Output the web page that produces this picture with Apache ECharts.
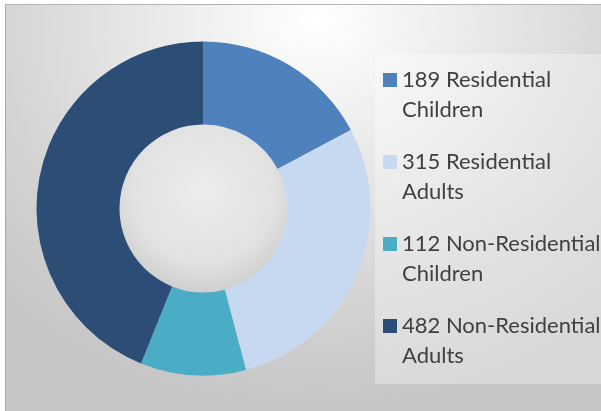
<!DOCTYPE html>
<html>
<head>
<meta charset="utf-8">
<script src="https://cdn.jsdelivr.net/npm/echarts@6/dist/echarts.min.js"></script>
<style>
  html, body { margin: 0; padding: 0; background: #ffffff; }
  #frame {
    position: absolute; left: 5px; top: 4px; width: 596px; height: 407px;
    border-left: 1px solid #a9a9a9; border-top: 1px solid #b4b4b4;
    background: radial-gradient(ellipse 75% 95% at 52% 4%, #ffffff 0%, #e4e4e4 45%, #d2d2d2 75%, #c6c6c6 100%);
  }
  #chart { position: absolute; left: 0; top: 0; width: 595px; height: 406px; }
</style>
</head>
<body>
<div id="frame"><div id="chart"></div></div>
<script>
// 数据
const categories = ['Residential Children', 'Residential Adults', 'Non-Residential Children', 'Non-Residential Adults']
const values = [189, 315, 112, 482]
const colors = ['#4f81bd', '#c6d9f1', '#4bacc6', '#2c4d75']

const chart = echarts.init(document.getElementById('chart'), null, { renderer: 'canvas' })

// 图例方块贴在第一行：路径底部留空
const legendIcon = 'path://M0,0H14V14H0Z M0,44L0.01,44Z'

const option = {
  animation: false,
  color: colors,
  graphic: [
    {
      // 图例底框
      type: 'rect',
      z: -2,
      shape: { x: 369, y: 49, width: 232, height: 330 },
      style: { fill: 'rgba(255,255,255,0.32)' },
    },
    {
      // 环形中心阴影
      type: 'circle',
      z: -1,
      shape: { cx: 197.5, cy: 203.5, r: 84 },
      style: {
        fill: {
          type: 'radial', x: 0.5, y: 0.4, r: 0.6,
          colorStops: [
            { offset: 0, color: '#ececec' },
            { offset: 0.7, color: '#e2e2e2' },
            { offset: 1, color: '#cfcfcf' },
          ],
        },
      },
    },
  ],
  legend: {
    orient: 'vertical',
    left: 377,
    top: 60,
    padding: 0,
    icon: legendIcon,
    itemWidth: 14,
    itemHeight: 44,
    itemGap: 22,
    selectedMode: false,
    itemStyle: { borderWidth: 0 },
    formatter: function (name) {
      const i = categories.indexOf(name)
      const k = name.lastIndexOf(' ')
      return values[i] + ' ' + name.slice(0, k) + '\n' + name.slice(k + 1)
    },
    textStyle: {
      fontFamily: 'Lato',
      fontSize: 22,
      lineHeight: 30,
      color: '#404040',
    },
    data: categories,
  },
  series: [
    {
      type: 'pie',
      center: [197.5, 203.5],
      radius: [84, 167],
      startAngle: 90,
      clockwise: true,
      silent: true,
      label: { show: false },
      labelLine: { show: false },
      itemStyle: { borderWidth: 0 },
      data: categories.map((c, i) => ({ name: c, value: values[i] })),
    },
  ],
}

chart.setOption(option)
</script>
</body>
</html>
